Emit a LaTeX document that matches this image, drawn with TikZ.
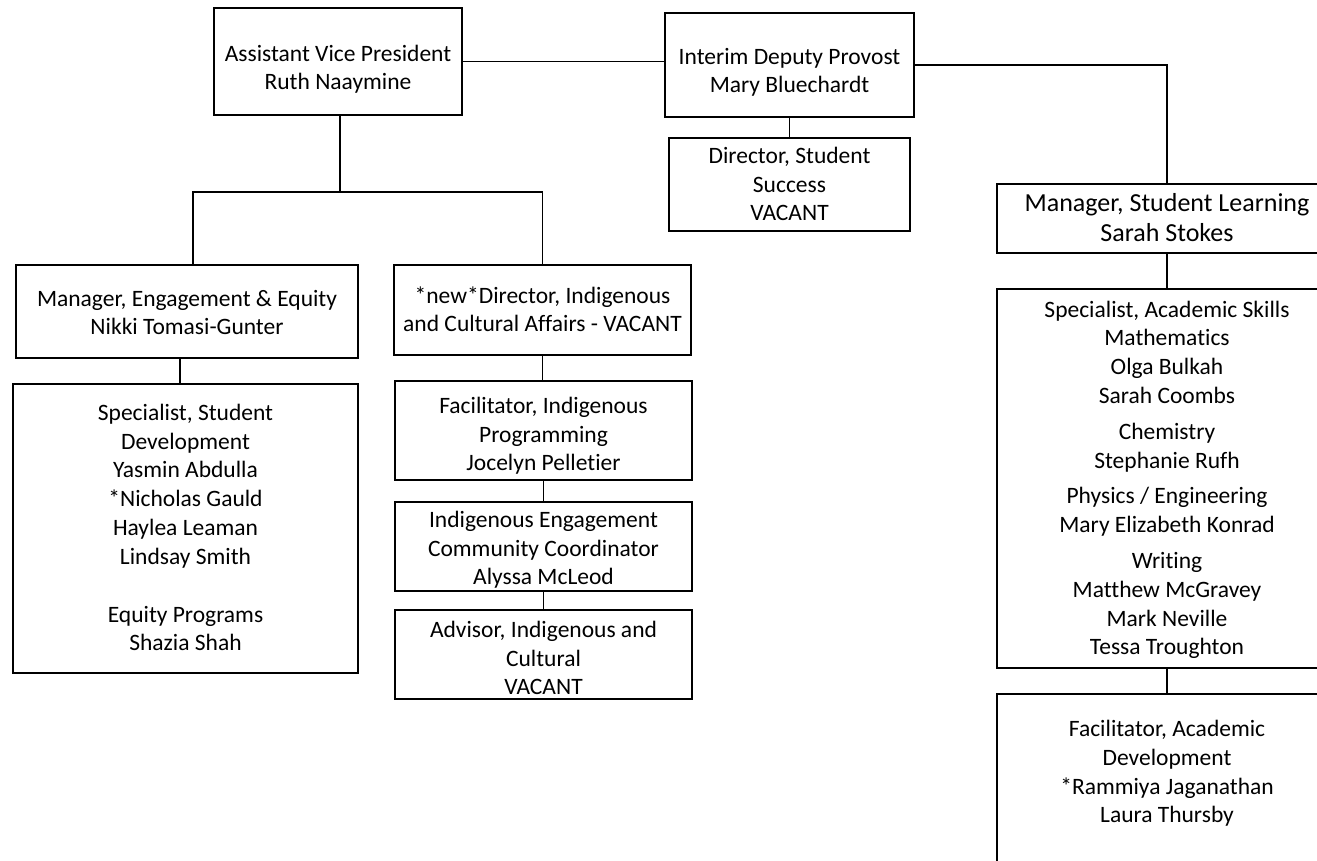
\documentclass[tikz,border=0pt]{standalone}
\usepackage{fontspec}
\setmainfont{Carlito}[Ligatures=NoCommon]
\begin{document}
\begin{tikzpicture}[x=1pt,y=-1pt]
\tikzstyle{every path}=[line width=1.8pt]
\tikzstyle{post}=[draw, line width=1.8pt, align=center, anchor=north, inner sep=0pt, font={\fontsize{23.5}{28.8}\selectfont}]
%
\useasboundingbox (0,0) rectangle (1317,860);
%
\node[post, minimum width=248pt, text height=82pt, text depth=25pt] at (338,7) (AVP) {Assistant Vice President \\ Ruth Naaymine};
\node[post, minimum width=249pt, text height=80pt, text depth=24pt] at (789.5,12) (IDP) {Interim Deputy Provost \\ Mary Bluechardt};
\node[post, minimum width=241pt, text height=83pt, text depth=10pt] at (789.5,137) (DSS) {Director, Student \\ Success \\ VACANT};
%
\node[post, minimum width=342pt, text height=70pt, text depth=23pt] at (187,264) (MEE) {Manager, Engagement \& Equity \\ Nikki Tomasi-Gunter};
\node[post, minimum width=345pt, text height=267pt, text depth=22pt] at (185.5,383) (SSD) {Specialist, Student \\ Development \\ Yasmin Abdulla \\ *Nicholas Gauld \\ Haylea Leaman \\ Lindsay Smith \\[29pt] Equity Programs \\ Shazia Shah};
%
\node[post, minimum width=297pt, text height=67pt, text depth=23pt] at (542.5,264) (DIC) {*new*Director, Indigenous \\ and Cultural Affairs - VACANT};
\node[post, minimum width=297pt, text height=90pt, text depth=9pt] at (543.5,380) (FIP) {Facilitator, Indigenous \\ Programming \\ Jocelyn Pelletier};
\node[post, minimum width=297pt, text height=83pt, text depth=6pt] at (543.5,501) (IEC) {Indigenous Engagement \\ Community Coordinator \\ Alyssa McLeod};
\node[post, minimum width=297pt, text height=85pt, text depth=4pt] at (543.5,609) (ADV) {Advisor, Indigenous and \\ Cultural \\ VACANT};
%
\node[post, minimum width=340pt, text height=58pt, text depth=11pt, font={\fontsize{26}{30}\selectfont}] at (1167,183) (MSL) {Manager, Student Learning \\ Sarah Stokes};
\node[post, minimum width=340pt, text height=366pt, text depth=13pt] at (1167,288) (SAS) {Specialist, Academic Skills \\ Mathematics \\ Olga Bulkah \\ Sarah Coombs \\[7pt] Chemistry \\ Stephanie Rufh \\[7pt] Physics / Engineering \\ Mary Elizabeth Konrad \\[7pt] Writing \\ Matthew McGravey \\ Mark Neville \\ Tessa Troughton};
\node[post, minimum width=340pt, text height=129pt, text depth=58pt] at (1167,693) (FAD) {Facilitator, Academic \\ Development \\ *Rammiya Jaganathan \\ Laura Thursby};
%
\coordinate (split) at (340,192);
%
\draw (AVP.east) -- (AVP.east -| IDP.west);
\draw (IDP.east) -| (MSL.north);
\draw (IDP.south) -- (DSS.north);
\draw (AVP.south -| split) -- (split) -| ([xshift=6pt]MEE.north);
\draw (split) -| (DIC.north);
\draw ([xshift=-7pt]MEE.south) -- ([xshift=-7pt]MEE.south |- SSD.north);
\draw (DIC.south) -- (DIC.south |- FIP.north);
\draw (FIP.south) -- (IEC.north);
\draw (IEC.south) -- (ADV.north);
\draw (MSL.south) -- (SAS.north);
\draw (SAS.south) -- (FAD.north);
\end{tikzpicture}
\end{document}
